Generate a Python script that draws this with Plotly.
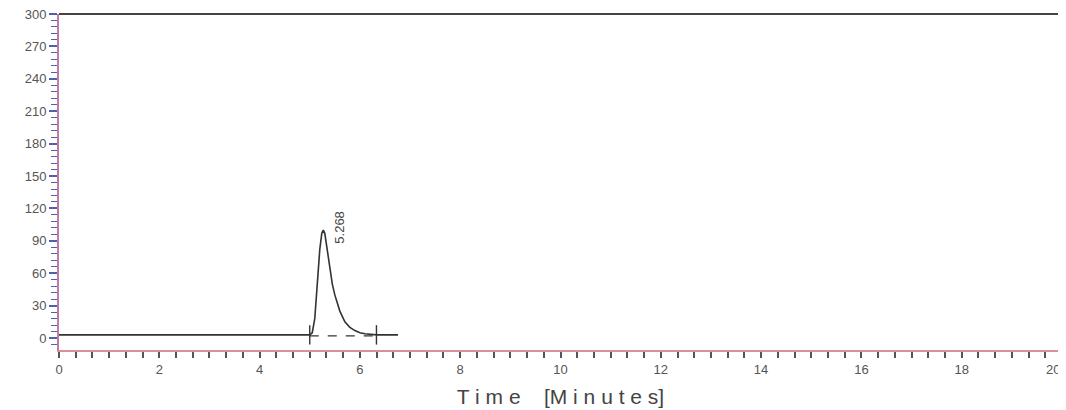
import plotly.graph_objects as go

# chromatogram trace
time_min = [0.0, 4.9, 5.0, 5.05, 5.1, 5.15, 5.2, 5.24, 5.27, 5.3, 5.35, 5.4, 5.45, 5.5, 5.6, 5.7, 5.8, 5.9, 6.0, 6.1, 6.2, 6.33, 6.5, 6.76]
signal = [3, 3, 3, 5, 18, 50, 82, 97, 100, 97, 82, 64, 50, 40, 25, 15, 10, 7, 5, 4, 3.5, 3, 3, 3]

peak_start = 5.0
peak_end = 6.33
peak_label = "5.268"
peak_label_t = 5.6
peak_label_y = 103
baseline_y = 2

x_ticks = [0, 2, 4, 6, 8, 10, 12, 14, 16, 18, 20]
y_ticks = [0, 30, 60, 90, 120, 150, 180, 210, 240, 270, 300]

fig = go.Figure()
fig.add_trace(go.Scatter(x=time_min, y=signal, mode="lines",
                         line=dict(color="#333333", width=1.6), showlegend=False))
# dashed baseline under peak
fig.add_trace(go.Scatter(x=[peak_start, peak_end], y=[baseline_y, baseline_y], mode="lines",
                         line=dict(color="#333333", width=1.2, dash="dash"), showlegend=False))
# integration markers
for t in [peak_start, peak_end]:
    fig.add_trace(go.Scatter(x=[t, t], y=[-6, 12], mode="lines",
                             line=dict(color="#333333", width=1.4), showlegend=False))

fig.add_annotation(x=peak_label_t, y=peak_label_y, text=peak_label, textangle=-90,
                   showarrow=False, font=dict(family="Arial, Liberation Sans", size=13, color="#444444"))

tick_font = dict(family="Arial, Liberation Sans", size=13, color="#555555")

# last x tick label kept inside the page
x_ticktext = [str(v) for v in x_ticks[:-1]] + [""]
fig.add_annotation(x=x_ticks[-1], xref="x", y=0, yref="paper", yshift=-10,
                   text=str(x_ticks[-1]), showarrow=False, xanchor="right", yanchor="top",
                   font=tick_font)

fig.update_layout(
    width=1066, height=410,
    margin=dict(l=51, r=12, t=6, b=68),
    plot_bgcolor="white", paper_bgcolor="white",
    xaxis=dict(range=[0, 20], tickvals=x_ticks, ticktext=x_ticktext,
               automargin=False, ticklabeloverflow="allow",
               showgrid=False, zeroline=False, showline=True, linecolor="#d8909c", linewidth=2,
               ticks="outside", ticklen=6, tickcolor="#555555", tickwidth=1.5,
               minor=dict(dtick=1/3, ticks="outside", ticklen=6, tickcolor="#555555", tickwidth=1.5),
               tickfont=tick_font,
               title=dict(text="T i m e    [M i n u t e s]", standoff=14,
                          font=dict(family="Arial, Liberation Sans", size=21, color="#444444"))),
    yaxis=dict(range=[-11, 300], tickvals=y_ticks, ticktext=[str(v) for v in y_ticks],
               automargin=False, ticklabeloverflow="allow",
               showgrid=False, zeroline=False, showline=True, linecolor="#c07ca0", linewidth=2,
               ticks="outside", ticklen=8, tickcolor="#5060b0", tickwidth=1.5,
               minor=dict(dtick=6, tick0=0, ticks="outside", ticklen=6, tickcolor="#5060b0", tickwidth=1),
               tickfont=tick_font),
)
# top and right frame
fig.add_shape(type="line", xref="paper", yref="paper", x0=0, x1=1, y0=1, y1=1,
              line=dict(color="#444444", width=2))
fig.add_shape(type="line", xref="paper", yref="paper", x0=1, x1=1, y0=0, y1=1,
              line=dict(color="#444444", width=2))

fig.write_html("out.html")
